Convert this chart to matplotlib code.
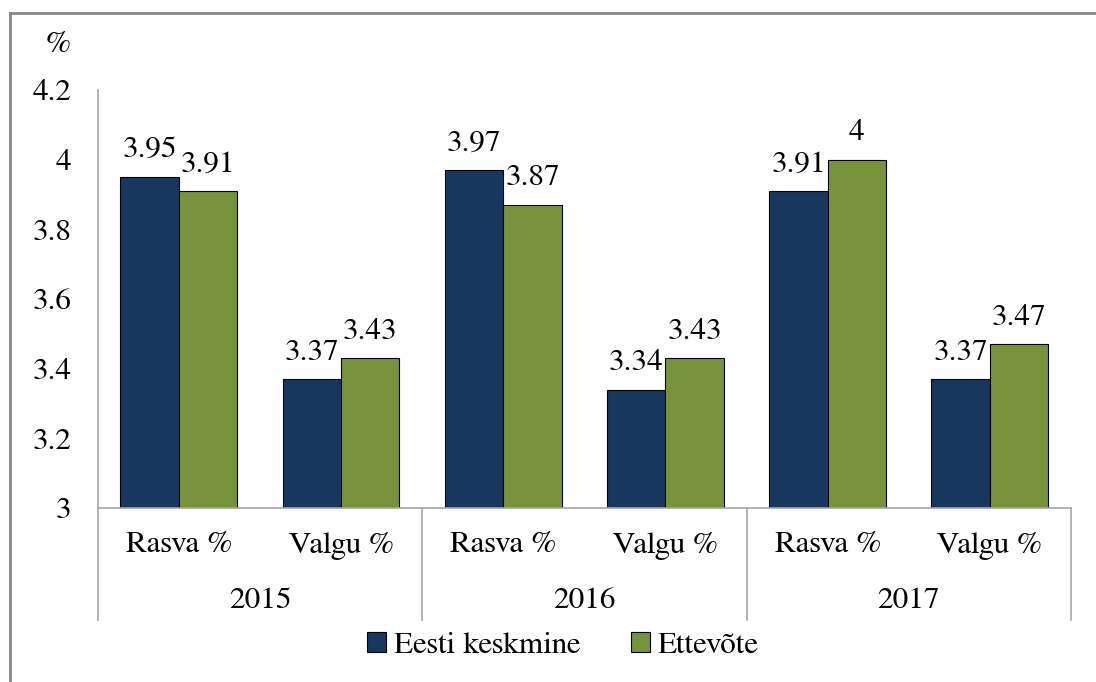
import matplotlib
matplotlib.use("Agg")
import matplotlib.pyplot as plt
import matplotlib.transforms as mtransforms
from matplotlib.lines import Line2D
import numpy as np

years = ["2015", "2016", "2017"]
categories = ["Rasva %", "Valgu %"] * 3
eesti = [3.95, 3.37, 3.97, 3.34, 3.91, 3.37]
ettevote = [3.91, 3.43, 3.87, 3.43, 4.00, 3.47]
eesti_labels = ["3.95", "3.37", "3.97", "3.34", "3.91", "3.37"]
ettevote_labels = ["3.91", "3.43", "3.87", "3.43", "4", "3.47"]
yticks = [3, 3.2, 3.4, 3.6, 3.8, 4, 4.2]
ytick_labels = ["3", "3.2", "3.4", "3.6", "3.8", "4", "4.2"]
series_names = ["Eesti keskmine", "Ettevõte"]

plt.rcParams['font.family'] = ['FreeSerif', 'TeX Gyre Termes', 'DejaVu Serif']
FS = 22.5
blue = "#17375E"
green = "#77933C"
gray = "#A6A6A6"

W, H = 1096, 682
fig = plt.figure(figsize=(W / 100, H / 100), dpi=100)
ax = fig.add_axes([97.7 / W, 1 - 508 / H, (1071 - 97.7) / W, (508 - 90) / H])

x = np.arange(len(categories))
bw = 0.36
b1 = ax.bar(x - bw / 2, eesti, bw, color=blue, edgecolor="black", linewidth=0.8)
b2 = ax.bar(x + bw / 2, ettevote, bw, color=green, edgecolor="black", linewidth=0.8)

ax.set_ylim(3, 4.2)
ax.set_xlim(-0.5, len(categories) - 0.5)

for rects, labs in ((b1, eesti_labels), (b2, ettevote_labels)):
    for r, lab in zip(rects, labs):
        ax.annotate(lab, (r.get_x() + r.get_width() / 2, r.get_height()),
                    xytext=(0, 9), textcoords="offset points",
                    ha="center", va="bottom", fontsize=FS, color="black")

ax.set_yticks(yticks)
ax.set_yticklabels(ytick_labels, fontsize=FS)
ax.tick_params(axis="y", length=0, pad=19)
ax.set_xticks(x)
ax.set_xticklabels(categories, fontsize=FS)
ax.tick_params(axis="x", length=0, pad=17)

for s in ("top", "right"):
    ax.spines[s].set_visible(False)
for s in ("left", "bottom"):
    ax.spines[s].set_color(gray)
    ax.spines[s].set_linewidth(1.2)

trans = mtransforms.blended_transform_factory(ax.transData, ax.transAxes)
sep_bottom = -(620 - 508) / (508 - 90)
for sx in [-0.5, 1.5, 3.5, 5.5]:
    ax.add_line(Line2D([sx, sx], [0, sep_bottom], transform=trans, color=gray,
                       linewidth=1.2, clip_on=False))
for i, yr in enumerate(years):
    ax.text(2 * i + 0.5, -(601 - 508) / (508 - 90), yr, transform=trans,
            ha="center", va="center", fontsize=FS)

ax.text(58 / W, 1 - 45 / H, "%", transform=fig.transFigure, ha="center",
        va="center", fontsize=FS)

handles = [plt.Rectangle((0, 0), 1, 1, facecolor=blue, edgecolor="black", linewidth=0.8),
           plt.Rectangle((0, 0), 1, 1, facecolor=green, edgecolor="black", linewidth=0.8)]
fig.legend(handles, series_names, loc="center", bbox_to_anchor=(563 / W, 1 - 646 / H),
           ncol=2, frameon=False, fontsize=FS, handlelength=0.6, handleheight=0.6,
           handletextpad=0.25, columnspacing=1.6)

# figure border (left and top)
fig.add_artist(Line2D([9.5 / W, 9.5 / W], [0, 1 - 13 / H], transform=fig.transFigure,
                      color="#888888", linewidth=2))
fig.add_artist(Line2D([9.5 / W, 1], [1 - 13 / H, 1 - 13 / H], transform=fig.transFigure,
                      color="#888888", linewidth=2))

fig.savefig("out.png", dpi=100)
